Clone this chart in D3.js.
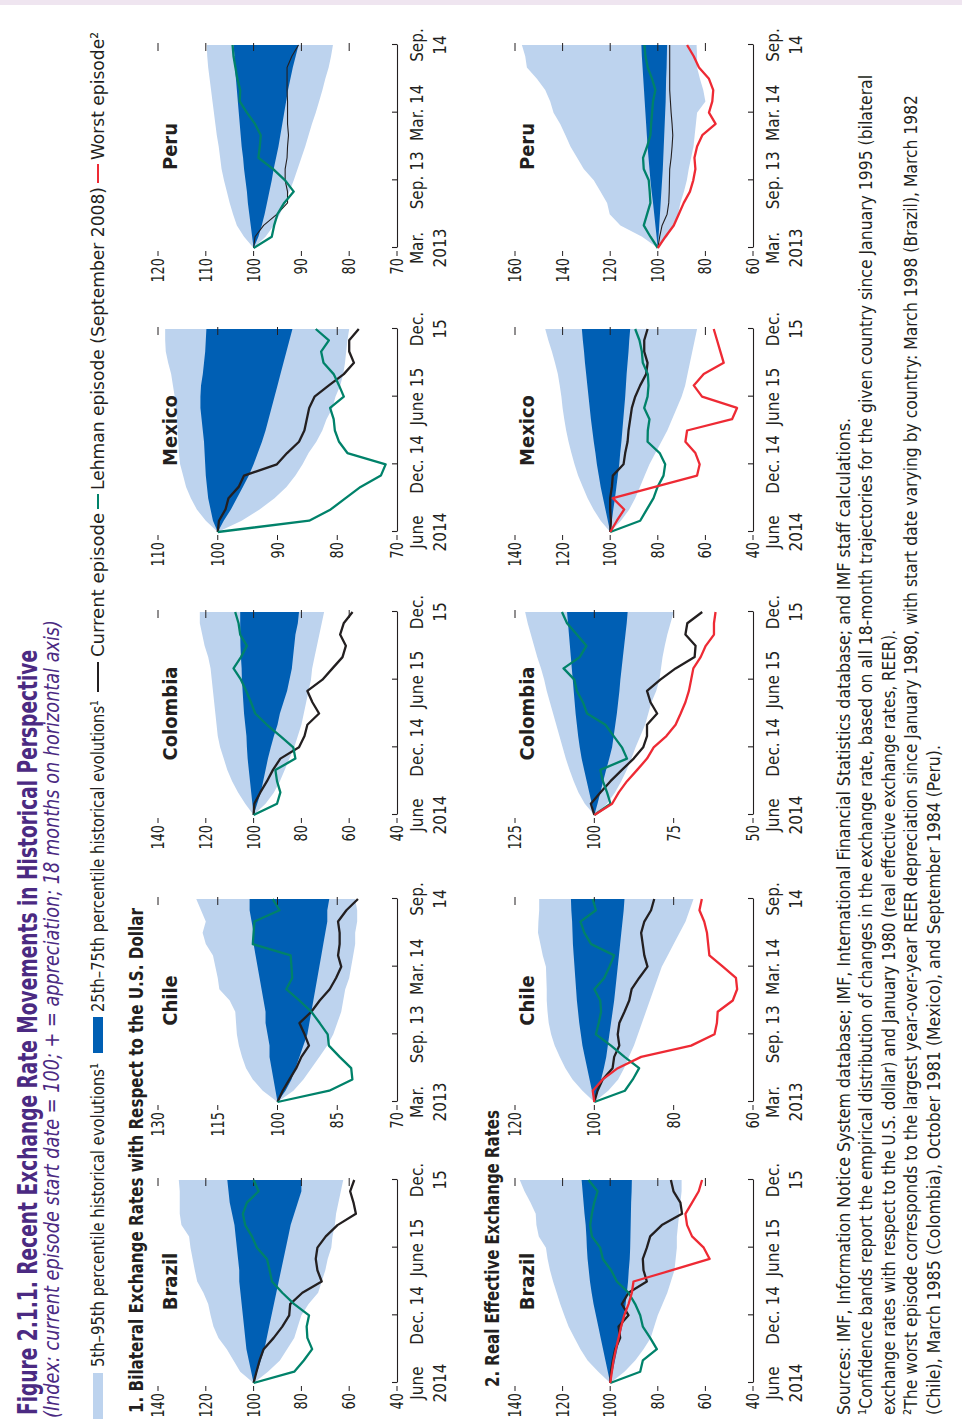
<!DOCTYPE html>
<html><head><meta charset="utf-8">
<script src="https://cdn.jsdelivr.net/npm/d3@7"></script>
<style>body{margin:0;background:#fff}svg{display:block}</style>
</head><body><script>
// ---------- DATA ----------
const countries = ["Brazil","Chile","Colombia","Mexico","Peru"];
const xLabelsJune = [["June","2014"],["Dec. 14"],["June 15"],["Dec.","15"]];
const xLabelsMar  = [["Mar.","2013"],["Sep. 13"],["Mar. 14"],["Sep.","14"]];
const xTickMonths = [0,6,12,18];

const bilBrazilTicks   = [40,60,80,100,120,140];
const bilChileTicks    = [70,85,100,115,130];
const bilColombiaTicks = [40,60,80,100,120,140];
const bilMexicoTicks   = [70,80,90,100,110];
const bilPeruTicks     = [70,80,90,100,110,120];
const reerBrazilTicks   = [40,60,80,100,120,140];
const reerChileTicks    = [60,80,100,120];
const reerColombiaTicks = [50,75,100,125];
const reerMexicoTicks   = [40,60,80,100,120,140];
const reerPeruTicks     = [60,80,100,120,140,160];

// 1. Bilateral
const bilBrazilP95 = [100,105.6,108.4,111.2,114.7,116.8,118,119,121,123.6,124.6,125.5,126.4,127,130.2,130.9,130.9,130.9,131.3];
const bilBrazilP75 = [100,101,102,103,103.5,104,104.5,105,105.5,106,106,106.5,107,107.5,108,109,110,110.5,111];
const bilBrazilP25 = [100,98.5,97,95.5,94.5,93.5,92.5,91.5,90.5,89.5,88.5,87.5,86.5,85.5,84.5,83,81.5,80,80];
const bilBrazilP5  = [100,94,89,86,83,81.5,80,77,73,71.5,70,69,67.5,67,66,65.5,64.5,63.5,62.5];
const bilBrazilCur = [100,98.8,97.5,95.8,91.6,88,85.1,84.7,79.6,71.5,73.3,74,73.3,69.8,64.9,57.2,58.2,59.6,57.9];
const bilBrazilLeh = [100,83,79,75.5,77.5,77.8,76.8,83,88,92.3,93.3,94.4,98.6,100.7,103.5,104.5,102.8,97.9,100];

const bilChileP95 = [100,103.7,106.2,107.9,108.9,109.7,110.2,110.4,110.6,112,114.6,115,115.6,116.2,118,118.8,118,119.2,120.4];
const bilChileP75 = [100,100.5,101,101.5,102,102,102.5,103,103,103.5,104,104.5,105,105.5,106,106,106.5,107,107];
const bilChileP25 = [100,98,96.5,95.5,94.5,93.5,92.5,92,91.5,91,90.5,90,89.5,89,88.5,88,87.5,87.5,87];
const bilChileP5  = [100,96,93.5,91.5,89.5,87.5,86,85,84,83.5,83,82,81.5,81,80.5,80.5,80,80,80.5];
const bilChileCur = [100,98.7,97,95.3,94,92.1,93.2,94.5,91.5,89.4,86.9,85.3,84,84.8,84.4,84.4,84.8,82.7,79.8];
const bilChileLeh = [100,87,81.2,81.5,84.4,87.1,87.4,89.4,91.5,94.5,97.8,96.3,96.5,96.7,106.2,106,105.8,99.5,101.2];

const bilColombiaP95 = [100,103.5,106.5,109,111,112.5,114,115,115.5,116,116.5,117,117.5,118,119,120.5,121.5,122.5,122.5];
const bilColombiaP75 = [100,100.5,101,101.5,102,102.5,102.8,103,103.5,104,104.3,104.6,104.9,105,105.3,105.5,105.6,105.6,105.6];
const bilColombiaP25 = [100,98.5,97,96,95,94,92.8,91.5,90,89,87.5,86,85,84,83.5,83,82.5,81.5,81];
const bilColombiaP5  = [100,95,91.5,89,87,85,83,81.5,80,79,78,77,76,75.5,74.5,73.5,72.5,71.5,70.5];
const bilColombiaCur = [100,99.7,97.2,94.4,91.9,88.8,81,78.7,77.5,72.6,75.4,77.5,71.2,67,62.8,61.4,63.8,62.3,58.6];
const bilColombiaLeh = [100,90.2,88.8,90.2,90.9,82.5,83.4,88.8,94.4,99.3,101.1,103.1,105.3,108.4,105.3,102.8,105.6,106.3,107.7];

const bilMexicoP95 = [100,102,103.5,104.5,105.3,105.8,106.3,106.5,106.6,106.7,106.8,107,107.2,107.5,107.8,108.3,108.7,108.8,108.8];
const bilMexicoP75 = [100,100.8,101.2,101.6,101.8,102,102.1,102.2,102.3,102.5,102.7,102.9,102.9,102.8,102.5,102.3,102.1,102,101.9];
const bilMexicoP25 = [100,99,97.8,96.8,95.8,94.8,94,93.3,92.6,92,91.5,91,90.5,90,89.5,89,88.5,88,87.5];
const bilMexicoP5  = [100,96,93,90.5,88.5,87,85.8,84.8,83.5,82.5,81.8,80.8,80.3,79.5,79,78.7,78.5,78.3,78];
const bilMexicoCur = [100,99.8,98.7,98.2,96.5,95.6,90.1,88.4,86.4,85.5,85.1,84.7,83.8,81.4,78.9,77.2,78,78,76.4];
const bilMexicoLeh = [100,84.7,81.1,78.6,76.1,72.7,71.9,78.3,79.7,80.4,80.6,81.2,78.9,79.7,80.6,82.3,82.7,81.4,83.6];

const bilPeruP95 = [100,102,103.5,104.3,105,105.6,106.2,106.7,107,107.3,107.7,108,108.3,108.6,108.9,109.2,109.5,109.7,109.8];
const bilPeruP75 = [100,100.3,100.6,100.9,101.2,101.4,101.7,102,102.2,102.5,102.7,102.9,103.1,103.3,103.5,103.7,103.9,104,104.2];
const bilPeruP25 = [100,99,98.3,97.7,97.2,96.7,96.2,95.8,95.3,94.8,94.4,94,93.6,93.2,92.8,92.3,91.8,91.2,90.6];
const bilPeruP5  = [100,97.5,95.8,94.5,93.5,92.5,91.6,90.8,90,89.2,88.5,87.8,87,86.3,85.6,85,84.3,83.8,83.4];
const bilPeruCur = [100,99.7,97.9,95.1,92.9,92.9,93.4,93.4,93,92.9,92.7,92.9,92.9,92.9,93,93,93,92,90.6];
const bilPeruLeh = [100,96.2,95.7,95,93.6,91.6,93.4,95.9,99,98.7,98.5,99.7,101.4,102.9,102.8,103.4,103.8,104.2,104.4];

// 2. REER
const reerBrazilP95 = [100,105,109.5,112.5,115,117.5,119.3,121,122.5,124,125.3,126.3,127,130,131,131.3,133.5,136,138];
const reerBrazilP75 = [100,101,102,103,104,105,106,107,107.8,108.5,109,109.5,109.8,110,110.3,110.8,111.2,111.6,112];
const reerBrazilP25 = [100,99,98,97,96,95,94.2,93.5,93,92.5,92.2,91.8,91.6,91.5,91.4,91.3,91.2,91,90.9];
const reerBrazilP5  = [100,94,89.5,86,83,81.5,80,78,76,74.5,73,72.5,72,72,71.5,71,70.5,70,70];
const reerBrazilCur = [100,99.7,98.9,97.9,95.8,96.5,92.3,95.1,92.3,84.6,86,86.3,84.6,83.2,78.3,69.8,70.5,73.4,74.5];
const reerBrazilLeh = [100,87.4,86.3,80.4,83.2,86.3,87.4,89.5,92.3,97.2,99.6,103.1,104.2,107.7,108.4,107.7,106.7,105.3,109.1];
const reerBrazilWorst = [100,99.3,98.6,97.6,96.5,95.4,94.1,92.3,90.9,90.2,74,58.2,60.7,65.6,67.7,68.4,65.6,62.8,61.4];

const reerChileP95 = [100,103,105.5,107.3,108.7,110,110.9,111.5,111.8,112,112,112.1,112.2,113,113.6,114.2,114.1,113.9,113.9];
const reerChileP75 = [100,100.6,101.2,101.8,102.4,103,103.4,103.8,104.1,104.4,104.6,104.8,105,105.2,105.4,105.5,105.6,105.8,105.9];
const reerChileP25 = [100,99,98.3,97.6,97,96.6,96.2,95.8,95.4,95,94.7,94.4,94.1,93.8,93.5,93.2,92.9,92.6,92.4];
const reerChileP5  = [100,96.5,94,92.5,91.3,90,89,88,87,86,85,84,83,81.5,80,78.5,77,76,75];
const reerChileCur = [100,99.2,97.9,95.4,95,93.7,94.1,93.7,92.4,91.2,90.6,88.7,86.6,87.4,87.8,88.2,87.4,85.7,84.9];
const reerChileLeh = [100,92.3,90.3,88.7,92.4,95.8,99.6,98.9,98.3,98.5,100,97.5,96.2,95,100.8,102.5,103.5,99.6,100.4];
const reerChileWorst = [100,100.4,97.9,94.1,88.2,75.6,69.7,69.1,68.9,65.1,64,64.3,67.6,71,71.3,71.6,72.3,73.5,72.9];

const reerColombiaP95 = [100,103,105,106.5,107.8,109,110,111,112,113,114,115,115.8,116.8,118,119,120,121,121.8];
const reerColombiaP75 = [100,100.8,101.6,102.4,103.2,104,104.6,105.1,105.5,105.9,106.2,106.5,106.8,107.1,107.4,107.7,108,108.3,108.6];
const reerColombiaP25 = [100,99,98.1,97.2,96.3,95.3,94.4,93.9,93.4,92.9,92.5,92.1,91.8,91.4,91,90.6,90.2,89.8,89.5];
const reerColombiaP5  = [100,96,93.5,91.5,89.8,88.3,87,85.5,84,83,82,80.5,79.5,79,78.5,77.8,77,76,75];
const reerColombiaCur = [100,101.1,98.1,94.9,91.3,87.6,84.6,83.4,83.4,80.2,82.3,83.4,79.2,74.4,68.4,68.1,71.3,70.7,66];
const reerColombiaLeh = [100,94.9,96,97.3,98.1,89.7,91.3,93.9,96.5,102.3,103.6,105.5,106.3,109.7,104.6,102.5,105.5,108.6,110.2];
const reerColombiaWorst = [100,94.4,92.3,89.7,86.5,83.4,81.3,77.3,74.4,72.8,71.3,70.2,69.5,68.8,66.5,64.9,62.3,62.3,61.8];

const reerMexicoP95 = [100,104,107,109.5,111.5,113.5,115,116.3,117.5,118.5,119.3,120,120.5,121.2,122,123.2,124.5,126,127.3];
const reerMexicoP75 = [100,101,102,103,104,104.8,105.6,106.2,106.9,107.5,108.1,108.6,109.1,109.6,110.1,110.6,111,111.5,111.9];
const reerMexicoP25 = [100,99.3,98.7,98,97.4,96.8,96.2,95.8,95.3,94.9,94.5,94.1,93.7,93.4,93.1,92.7,92.3,92,91.6];
const reerMexicoP5  = [100,95.5,92,89.5,87.5,85.5,83.5,81,78.5,76,74,72,70,68.5,67.5,66.5,65.5,64.5,63.5];
const reerMexicoCur = [100,99.7,100,100,99.3,98.9,94.4,93.7,92.7,92.3,91.6,90.9,89.5,87.4,84.9,84.3,85.7,85.7,84.3];
const reerMexicoLeh = [100,87.4,84.6,81.8,80.1,77.6,76.9,79.2,84.3,84.2,83.5,85.7,84.3,83.9,84.2,86.3,86.7,87.7,89.5];
const reerMexicoWorst = [100,97.2,94.1,98.9,81.2,63.5,62.4,64.2,68.4,67.7,48.8,46.7,61.4,64.9,60.7,52.3,53.7,55.1,56.5];

const reerPeruP95 = [100,106.6,115.7,120.2,121.3,124.1,126.9,131.1,133.9,136.7,138.8,141,143.8,145.2,147.3,150.8,155,155.7,157.1];
const reerPeruP75 = [100,100.5,101,101.5,102,102.6,103.1,103.5,103.9,104.3,104.6,104.9,105.2,105.5,105.8,106.1,106.4,106.7,106.9];
const reerPeruP25 = [100,99.7,99.4,99.1,98.8,98.5,98.2,97.9,97.7,97.5,97.3,97.1,96.9,96.7,96.6,96.5,96.3,96.2,96.1];
const reerPeruP5  = [100,96,93.5,91.5,90.5,89,87.8,87,86,85,84.5,84,83.5,80,80.9,82.3,83.5,83.5,83.7];
const reerPeruCur = [100,99.2,98.2,96.1,95.4,95.2,95.1,95,94.4,94,93.7,94,94.4,94.7,95,95,95,95,95];
const reerPeruLeh = [100,103.1,105.9,104.5,103.1,103.4,103.8,105.9,106.2,104.5,103.1,102.8,102.4,102,101,102.4,104.2,105.2,105.6];
const reerPeruWorst = [100,96.8,93.3,91.2,89.1,86.5,85.1,84.2,84.6,83.5,81.3,75.7,78.5,77.1,76.7,78.5,82.7,84.9,87.7];

const legendLabels = ["5th–95th percentile historical evolutions¹","25th–75th percentile historical evolutions¹","Current episode","Lehman episode (September 2008)","Worst episode²"];
const titleText = "Figure 2.1.1. Recent Exchange Rate Movements in Historical Perspective";
const subtitleText = "(Index: current episode start date = 100; + = appreciation; 18 months on horizontal axis)";
const section1 = "1. Bilateral Exchange Rates with Respect to the U.S. Dollar";
const section2 = "2. Real Effective Exchange Rates";
const notes = [
 "Sources: IMF, Information Notice System database; IMF, International Financial Statistics database; and IMF staff calculations.",
 "¹Confidence bands report the empirical distribution of changes in the exchange rate, based on all 18-month trajectories for the given country since January 1995 (bilateral",
 "exchange rates with respect to the U.S. dollar) and January 1980 (real effective exchange rates, REER).",
 "²The worst episode corresponds to the largest year-over-year REER depreciation since January 1980, with start date varying by country: March 1998 (Brazil), March 1982",
 "(Chile), March 1985 (Colombia), October 1981 (Mexico), and September 1984 (Peru)."
];

// ---------- TABLE ----------
const panels = [
 {row:0,col:0,ticks:bilBrazilTicks,xl:xLabelsJune,p5:bilBrazilP5,p25:bilBrazilP25,p75:bilBrazilP75,p95:bilBrazilP95,cur:bilBrazilCur,leh:bilBrazilLeh},
 {row:0,col:1,ticks:bilChileTicks,xl:xLabelsMar,p5:bilChileP5,p25:bilChileP25,p75:bilChileP75,p95:bilChileP95,cur:bilChileCur,leh:bilChileLeh},
 {row:0,col:2,ticks:bilColombiaTicks,xl:xLabelsJune,p5:bilColombiaP5,p25:bilColombiaP25,p75:bilColombiaP75,p95:bilColombiaP95,cur:bilColombiaCur,leh:bilColombiaLeh},
 {row:0,col:3,ticks:bilMexicoTicks,xl:xLabelsJune,p5:bilMexicoP5,p25:bilMexicoP25,p75:bilMexicoP75,p95:bilMexicoP95,cur:bilMexicoCur,leh:bilMexicoLeh},
 {row:0,col:4,ticks:bilPeruTicks,xl:xLabelsMar,p5:bilPeruP5,p25:bilPeruP25,p75:bilPeruP75,p95:bilPeruP95,cur:bilPeruCur,leh:bilPeruLeh,thin:true},
 {row:1,col:0,ticks:reerBrazilTicks,xl:xLabelsJune,p5:reerBrazilP5,p25:reerBrazilP25,p75:reerBrazilP75,p95:reerBrazilP95,cur:reerBrazilCur,leh:reerBrazilLeh,worst:reerBrazilWorst},
 {row:1,col:1,ticks:reerChileTicks,xl:xLabelsMar,p5:reerChileP5,p25:reerChileP25,p75:reerChileP75,p95:reerChileP95,cur:reerChileCur,leh:reerChileLeh,worst:reerChileWorst},
 {row:1,col:2,ticks:reerColombiaTicks,xl:xLabelsJune,p5:reerColombiaP5,p25:reerColombiaP25,p75:reerColombiaP75,p95:reerColombiaP95,cur:reerColombiaCur,leh:reerColombiaLeh,worst:reerColombiaWorst},
 {row:1,col:3,ticks:reerMexicoTicks,xl:xLabelsJune,p5:reerMexicoP5,p25:reerMexicoP25,p75:reerMexicoP75,p95:reerMexicoP95,cur:reerMexicoCur,leh:reerMexicoLeh,worst:reerMexicoWorst},
 {row:1,col:4,ticks:reerPeruTicks,xl:xLabelsMar,p5:reerPeruP5,p25:reerPeruP25,p75:reerPeruP75,p95:reerPeruP95,cur:reerPeruCur,leh:reerPeruLeh,worst:reerPeruWorst,thin:true}
];

// ---------- LAYOUT / STYLE ----------
const W = 962, H = 1421;
const FONT = "'Liberation Sans Narrow','Arial Narrow','DejaVu Sans Condensed',sans-serif";
const C = {light:"#bdd3ee", dark:"#005fb4", cur:"#231f20", leh:"#00826a", worst:"#ee2a34", purple:"#4b2a82", ink:"#231f20"};
const colStart = [38, 319, 606, 889, 1173];
const plotW = 203;
const rowBox = [{top:158,bottom:397},{top:515,bottom:753}];

const svg = d3.select("body").append("svg").attr("width",W).attr("height",H)
  .style("font-family",FONT);
svg.append("rect").attr("width",W).attr("height",H).attr("fill","#fff");
svg.append("rect").attr("x",0).attr("y",0).attr("width",W).attr("height",5).attr("fill","#efe5f0");

// rotated frame: u (horizontal, 0..1421), v (vertical, 0..962)
const g = svg.append("g").attr("transform",`translate(0,${H}) rotate(-90)`);

function txt(sel, s, u, v, opts={}) {
  const t = sel.append("text").attr("x",u).attr("y",v).text(s)
    .attr("font-size",opts.size||17).attr("fill",opts.fill||C.ink);
  if (opts.weight) t.attr("font-weight",opts.weight);
  if (opts.style) t.attr("font-style",opts.style);
  if (opts.anchor) t.attr("text-anchor",opts.anchor);
  if (opts.len) t.attr("textLength",opts.len).attr("lengthAdjust","spacingAndGlyphs");
  return t;
}

// Title + subtitle
txt(g, titleText, 6, 37, {size:26, weight:"bold", fill:C.purple, len:765});
txt(g, subtitleText, 3, 59, {size:21, style:"italic", fill:C.purple, len:798});

// Legend
const lg = g.append("g");
lg.append("rect").attr("x",2).attr("y",93).attr("width",46).attr("height",10).attr("fill",C.light);
txt(lg, legendLabels[0], 54, 104, {size:18, len:304});
lg.append("rect").attr("x",368).attr("y",93).attr("width",36).attr("height",10).attr("fill",C.dark);
txt(lg, legendLabels[1], 409, 104, {size:18, len:312});
lg.append("line").attr("x1",729).attr("x2",759).attr("y1",98).attr("y2",98).attr("stroke",C.cur).attr("stroke-width",2);
txt(lg, legendLabels[2], 764, 104, {size:18, len:144});
lg.append("line").attr("x1",912).attr("x2",927).attr("y1",98).attr("y2",98).attr("stroke",C.leh).attr("stroke-width",2);
txt(lg, legendLabels[3], 931, 104, {size:18, len:303});
lg.append("line").attr("x1",1238).attr("x2",1257).attr("y1",98).attr("y2",98).attr("stroke",C.worst).attr("stroke-width",2);
txt(lg, legendLabels[4], 1261, 104, {size:18, len:128});

// Section headings
txt(g, section1, 8, 143, {size:19, weight:"bold", len:505});
txt(g, section2, 34, 499, {size:19, weight:"bold", len:277});

// Panels
const months = d3.range(19);
panels.forEach(p => {
  const u0 = colStart[p.col], u1 = u0 + plotW;
  const {top, bottom} = rowBox[p.row];
  const x = d3.scaleLinear().domain([0,18]).range([u0,u1]);
  const y = d3.scaleLinear().domain(d3.extent(p.ticks)).range([bottom, top]);
  const pg = g.append("g");

  const band = (lo, hi) => d3.area().x(i => x(i)).y0(i => y(lo[i])).y1(i => y(hi[i]));
  pg.append("path").attr("d", band(p.p5,p.p95)(months)).attr("fill",C.light);
  pg.append("path").attr("d", band(p.p25,p.p75)(months)).attr("fill",C.dark);

  // right-side ticks
  pg.selectAll(".rt").data(p.ticks.slice(1)).join("line")
    .attr("x1",u1-6).attr("x2",u1+2).attr("y1",d=>y(d)).attr("y2",d=>y(d))
    .attr("stroke",C.ink).attr("stroke-width",1);

  // lines
  const line = arr => d3.line().x(i => x(i)).y(i => y(arr[i]))(months);
  pg.append("path").attr("d",line(p.cur)).attr("fill","none").attr("stroke",C.cur)
    .attr("stroke-width",p.thin?1.1:2.3).attr("stroke-linejoin","round");
  pg.append("path").attr("d",line(p.leh)).attr("fill","none").attr("stroke",C.leh)
    .attr("stroke-width",2.3).attr("stroke-linejoin","round");
  if (p.worst) pg.append("path").attr("d",line(p.worst)).attr("fill","none").attr("stroke",C.worst)
    .attr("stroke-width",2.3).attr("stroke-linejoin","round");

  // bottom axis
  const ax = pg.append("g").attr("transform",`translate(0,${bottom})`)
    .call(d3.axisBottom(x).tickValues(xTickMonths).tickSize(-5).tickSizeOuter(0).tickFormat(""));
  ax.selectAll("path,line").attr("stroke",C.ink).attr("stroke-width",1.1);

  // x labels
  xTickMonths.forEach((m,i) => {
    p.xl[i].forEach((s,k) => {
      txt(pg, s, x(m), bottom + 26 + k*23, {size:17, anchor:"middle"});
    });
  });

  // left ticks & labels
  pg.selectAll(".lt").data(p.ticks).join("line")
    .attr("x1",u0-8).attr("x2",u0-3).attr("y1",d=>y(d)).attr("y2",d=>y(d))
    .attr("stroke",C.ink).attr("stroke-width",1);
  p.ticks.forEach(t => {
    const s = String(t);
    txt(pg, s, u0-10, y(t)+6, {size:17, anchor:"end", len:s.length*8.2});
  });

  // panel title
  txt(pg, countries[p.col], (u0+u1)/2, top+19, {size:20, weight:"bold", anchor:"middle"});
});

// Footnotes
const noteLen = [997, 1340, 785, 1320, 670];
const noteBase = [850, 872, 895, 917, 940];
notes.forEach((s,i) => txt(g, s, 6, noteBase[i], {size:18, len:noteLen[i]}));
</script></body></html>
